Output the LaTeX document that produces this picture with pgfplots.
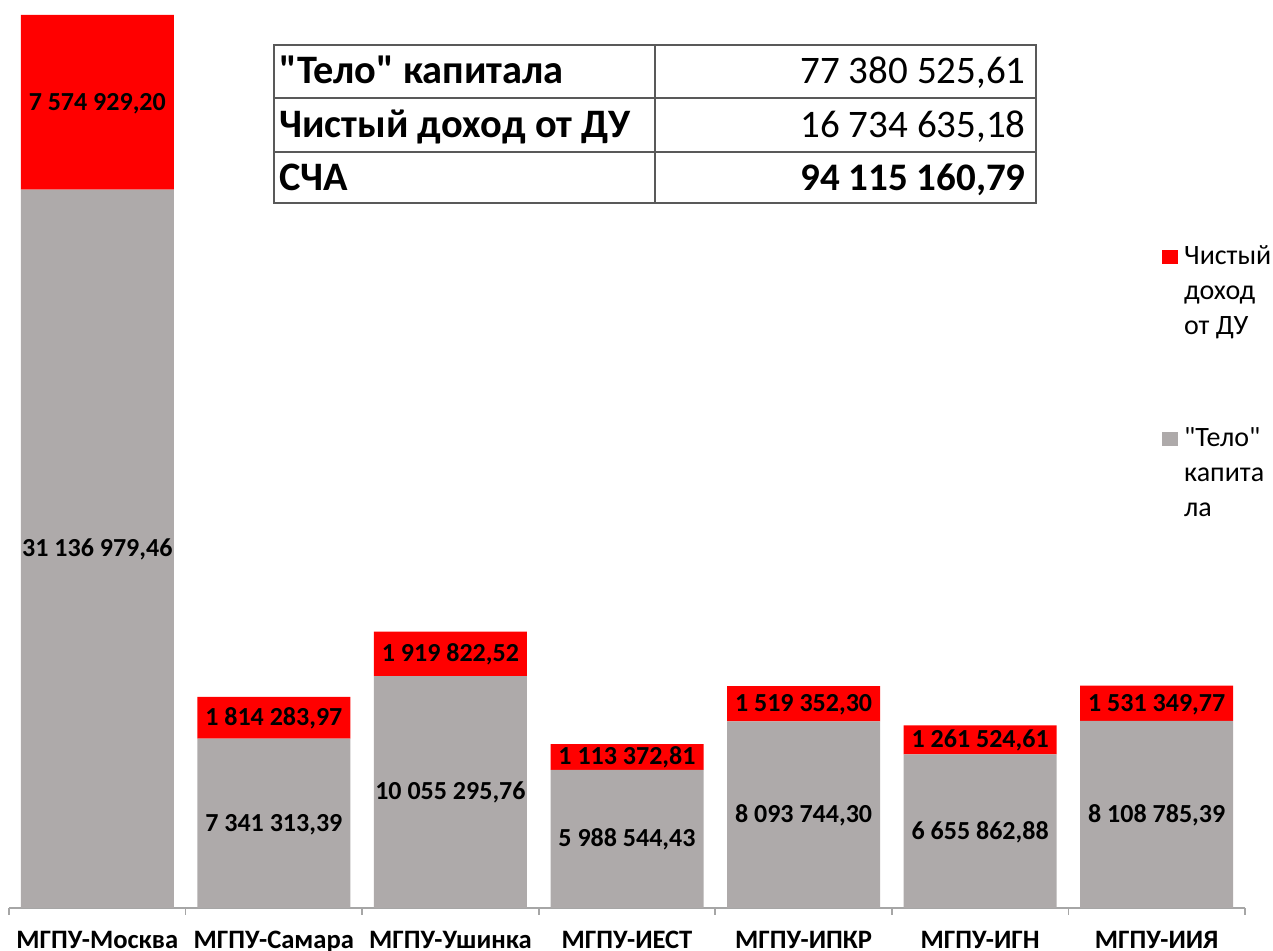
\documentclass[border=0pt]{standalone}
\usepackage{fontspec}
\setmainfont{Carlito}
\newfontfamily\qfont{Carlito}
\usepackage{pgfplots}
\usepackage{pgfplotstable}
\pgfplotsset{compat=1.18}
\definecolor{barGray}{HTML}{AEAAAA}
\definecolor{axGray}{HTML}{A6A6A6}
\definecolor{tabLine}{HTML}{595959}

\pgfplotstableread{
x gray red graylabel redlabel
0 31136979.46 7574929.20 {31 136 979,46} {7 574 929,20}
1 7341313.39 1814283.97 {7 341 313,39} {1 814 283,97}
2 10055295.76 1919822.52 {10 055 295,76} {1 919 822,52}
3 5988544.43 1113372.81 {5 988 544,43} {1 113 372,81}
4 8093744.30 1519352.30 {8 093 744,30} {1 519 352,30}
5 6655862.88 1261524.61 {6 655 862,88} {1 261 524,61}
6 8108785.39 1531349.77 {8 108 785,39} {1 531 349,77}
}\bars

\begin{document}
\begin{tikzpicture}
\useasboundingbox (0,0) rectangle (636.5pt,475.5pt);
\begin{axis}[
  at={(4.5pt,21.5pt)}, anchor=south west,
  scale only axis, width=618pt, height=446.5pt,
  ybar stacked, bar width=76.5pt,
  xmin=-0.5, xmax=6.5, ymin=0, ymax=38711908.66,
  axis y line=none, axis x line*=bottom,
  axis line style={axGray, line width=0.8pt},
  xtick={-0.5,0.5,...,6.5}, xticklabels={},
  tick align=outside, major tick length=3.5pt,
  every tick/.style={axGray, line width=0.8pt},
  extra x ticks={0,1,2,3,4,5,6},
  extra x tick labels={МГПУ-Москва,МГПУ-Самара,МГПУ-Ушинка,МГПУ-ИЕСТ,МГПУ-ИПКР,МГПУ-ИГН,МГПУ-ИИЯ},
  extra x tick style={major tick length=0pt,
    xticklabel style={anchor=base, yshift=-20.5pt, inner sep=0pt,
      font=\bfseries\fontsize{13.3}{15}\selectfont}},
  scaled y ticks=false,
  legend image code/.code={\fill[#1] (0pt,0pt) rectangle (8pt,7pt);},
  legend style={draw=none, fill=none, inner sep=0pt, outer sep=0pt,
    at={(rel axis cs:0.933,0.748)}, anchor=north west,
    column sep=3pt, row sep=0pt,
    cells={anchor=base west},
    nodes={inner sep=0pt, text height=12pt, text depth=5.5pt,
      font=\qfont\fontsize{14}{17.5}\selectfont}},
  nodes near coords, point meta=explicit symbolic,
  nodes near coords style={anchor=mid, yshift=-1.5pt, inner sep=0pt, text=black,
    font=\bfseries\fontsize{13}{15}\selectfont},
]
\addlegendimage{fill=red, draw=none}
\addlegendentry{Чистый}
\addlegendimage{empty legend}
\addlegendentry{доход}
\addlegendimage{empty legend}
\addlegendentry{от ДУ}
\addlegendimage{legend image code/.code={\path[draw=none, fill=none] (0pt,-19.25pt) rectangle (0.1pt,19.25pt);}}
\addlegendentry{}
\addlegendimage{fill=barGray, draw=none}
\addlegendentry{"Тело"}
\addlegendimage{empty legend}
\addlegendentry{капита}
\addlegendimage{empty legend}
\addlegendentry{ла}
\addplot[fill=barGray, draw=none] table[x=x, y=gray, meta=graylabel] {\bars};
\addplot[fill=red, draw=none] table[x=x, y=red, meta=redlabel] {\bars};
\end{axis}
% summary table
\fill[white] (137pt,374pt) rectangle (518pt,453pt);
\draw[tabLine, line width=0.9pt] (137pt,374pt) rectangle (518pt,453pt);
\draw[tabLine, line width=0.9pt] (137pt,426.5pt) -- (518pt,426.5pt);
\draw[tabLine, line width=0.9pt] (137pt,399.5pt) -- (518pt,399.5pt);
\draw[tabLine, line width=0.9pt] (327.5pt,374pt) -- (327.5pt,453pt);
\begin{scope}[every node/.style={inner sep=0pt, font=\qfont\fontsize{19.5}{22}\selectfont}]
\node[anchor=base west] at (139.5pt,433.5pt) {\fontsize{20.2}{22}\selectfont\bfseries "Тело" капитала};
\node[anchor=base west] at (139.5pt,406.5pt) {\fontsize{20.2}{22}\selectfont\bfseries Чистый доход от ДУ};
\node[anchor=base west] at (139.5pt,380pt) {\fontsize{20.2}{22}\selectfont\bfseries СЧА};
\node[anchor=base east] at (513pt,433.5pt) {77 380 525,61};
\node[anchor=base east] at (513pt,406.5pt) {16 734 635,18};
\node[anchor=base east] at (513pt,380pt) {\bfseries 94 115 160,79};
\end{scope}
\end{tikzpicture}
\end{document}
